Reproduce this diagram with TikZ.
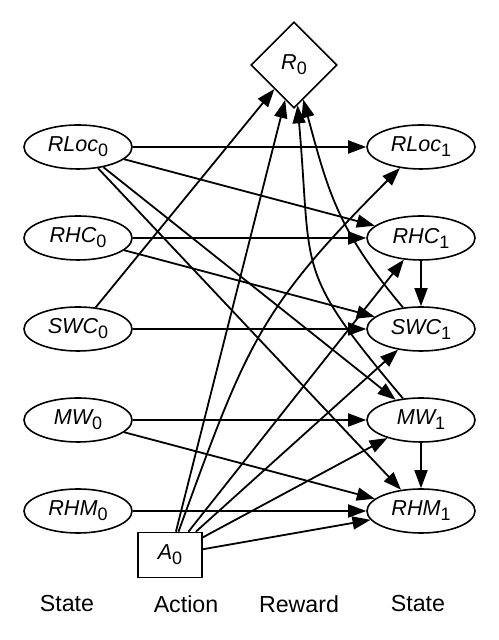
\documentclass[tikz,border=0pt]{standalone}
\usepackage{fontspec}
\setmainfont{Liberation Sans}
\usetikzlibrary{shapes.geometric,arrows.meta}

\newcommand{\lowidx}[1]{\raisebox{-2.5pt}{\upshape\fontsize{9}{9}\selectfont #1}}

\begin{document}
\begin{tikzpicture}[x=0.5pt,y=0.5pt,>={Triangle[length=9pt,width=6.5pt]},
  var/.style={ellipse, draw, line width=0.8pt, minimum width=54pt, minimum height=22pt,
    inner sep=0pt, font=\fontsize{10.8}{13}\selectfont\itshape},
  act/.style={rectangle, draw, line width=0.8pt, minimum width=32pt, minimum height=22.5pt,
    inner sep=0pt, font=\fontsize{10.8}{13}\selectfont\itshape},
  rew/.style={diamond, draw, line width=0.8pt, minimum width=43pt, minimum height=43pt,
    inner sep=0pt, font=\fontsize{10.8}{13}\selectfont\itshape},
  lab/.style={font=\fontsize{11.6}{14}\selectfont},
  edge/.style={->, line width=0.9pt}]

  \useasboundingbox (0,0) rectangle (498,640);

%%%%%%%%%%%%%%%%%%%%%%%%%%%%%%%%%%%%%%%%%%
  % Reward
  \node[rew] (R0) at (294,575) {R\lowidx{0}};

  % State at time 0
  \node[var] (RLoc0) at (78,493) {RLoc\lowidx{0}};
  \node[var] (RHC0)  at (78,402) {RHC\lowidx{0}};
  \node[var] (SWC0)  at (78,311) {SWC\lowidx{0}};
  \node[var] (MW0)   at (78,220) {MW\lowidx{0}};
  \node[var] (RHM0)  at (78,129) {RHM\lowidx{0}};

  % State at time 1
  \node[var] (RLoc1) at (421,493) {RLoc\lowidx{1}};
  \node[var] (RHC1)  at (421,402) {RHC\lowidx{1}};
  \node[var] (SWC1)  at (421,311) {SWC\lowidx{1}};
  \node[var] (MW1)   at (421,220) {MW\lowidx{1}};
  \node[var] (RHM1)  at (421,129) {RHM\lowidx{1}};

  % Action
  \node[act] (A0) at (170,85) {A\lowidx{0}};

  % Column labels
  \node[lab] (lblS0) at (67,36)  {State};
  \node[lab] (lblA)  at (186,36) {Action};
  \node[lab] (lblR)  at (299,36) {Reward};
  \node[lab] (lblS1) at (418,36) {State};

%%%%%%%%%%%%%%%%%%%%%%%%%%%%%%%%%%%%%%%%%%
  % State to state
  \draw[edge] (RLoc0) -- (RLoc1);
  \draw[edge] (RLoc0) -- (RHC1);
  \draw[edge] (RLoc0) -- (MW1);
  \draw[edge] (RLoc0) -- (RHM1);
  \draw[edge] (RHC0) -- (RHC1);
  \draw[edge] (RHC0) -- (SWC1);
  \draw[edge] (SWC0) -- (SWC1);
  \draw[edge] (MW0) -- (MW1);
  \draw[edge] (MW0) -- (RHM1);
  \draw[edge] (RHM0) -- (RHM1);
  \draw[edge] (RHC1) -- (SWC1);
  \draw[edge] (MW1) -- (RHM1);

  % Action to state
  \draw[edge] (A0) to[out=70,in=225,looseness=1.2] (RLoc1);
  \draw[edge] (A0) -- (RHC1);
  \draw[edge] (A0) -- (SWC1);
  \draw[edge] (A0) -- (MW1);
  \draw[edge] (A0) -- (RHM1);

  % Into the reward
  \draw[edge] (SWC0) -- (R0);
  \draw[edge] (A0) -- (R0);
  \draw[edge] (MW1) to[out=130,in=-85,looseness=1.4] (R0);
  \draw[edge] (SWC1) to[out=130,in=-75,looseness=1.1] (R0);

\end{tikzpicture}
\end{document}
